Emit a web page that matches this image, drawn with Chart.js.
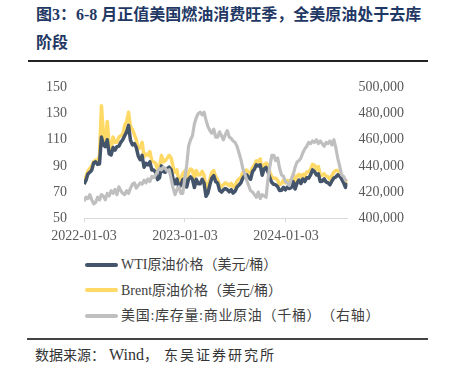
<!DOCTYPE html>
<html>
<head>
<meta charset="utf-8">
<script src="https://cdn.jsdelivr.net/npm/chart.js@4.4.1/dist/chart.umd.min.js"></script>
<style>
  body { margin: 0; width: 449px; height: 370px; background: #fff; position: relative; overflow: hidden;
         font-family: "Liberation Serif", "Noto Sans CJK SC", serif; text-spacing-trim: space-all; }
  #title { position: absolute; left: 36px; top: 1px; font-size: 16px; line-height: 28px; font-weight: bold;
           color: #1F3864; white-space: nowrap; }
  .rule { position: absolute; background: #222; }
  #chartBox { position: absolute; left: 0; top: 62px; width: 449px; height: 193px; }
  .legendRow { position: absolute; left: 85px; height: 20px; line-height: 20px; font-size: 14px; color: #404040;
               white-space: nowrap; }
  .swatch { display: inline-block; width: 33px; height: 4px; border-radius: 2px; vertical-align: middle;
            margin-right: 3px; position: relative; top: -1px; }
  #source { position: absolute; left: 35px; top: 345px; font-size: 14px; line-height: 20px; color: #333; white-space: nowrap; }
  #source .lat { font-size: 16px; margin-left: 4px; }
  #source .fim { letter-spacing: 2px; margin-left: 6px; }
</style>
</head>
<body>
<div id="title">图3：6-8 月正值美国燃油消费旺季，全美原油处于去库<br>阶段</div>
<div class="rule" style="left:28px; top:60px; width:400px; height:2px;"></div>
<div id="chartBox"><canvas id="grafico"></canvas></div>
<div id="legend"></div>
<div class="rule" style="left:27px; top:338px; width:401px; height:1.5px; background:#444;"></div>
<div id="source">数据来源：<span class="lat">Wind</span>，<span class="fim">东吴证券研究所</span></div>

<script>
const ctx = document.getElementById('grafico');

// semanas a partir de 2022-01-03
const dataInicio = '2022-01-03';
const dataFim = '2024-08-12';

const wti = [
  76.1,
  78.9, 83.8, 85.1, 86.8, 92.3, 93.1, 91.1, 91.6, 112, 106, 104.7, 110, 99.3, 98.3, 104, 102.1, 104.7, 105,
  108, 110, 113, 116, 121, 109.6, 106, 107, 104, 97.6, 94.7, 98, 89, 92, 90.8, 93.1, 86.9, 86.8, 85.1, 79.5,
  81, 90, 85.6, 85.1, 87.9, 89, 87, 80.1, 76.3, 80, 73, 75.5, 79.6, 80.3,
  73.8, 79.9, 81.6, 79.7, 73.4, 79.7, 76.3, 76.3, 79.7, 76.7, 66.7, 69.3, 75.7, 80.7, 82.5, 77.9, 76.8, 71.3,
  70, 71.7, 72.7, 71.7, 70.2, 71.8, 69.2, 70.6, 73.9, 75.4, 77.1, 80.6, 82.8, 83.2, 81.3, 79.8, 85.6, 87.5,
  90.8, 90, 90.8, 82.8, 87.7, 88.8, 85.5, 80.5, 77.2, 75.9, 75.5, 74.1, 71.2, 71.4, 73.6, 71.7,
  73.8, 72.7, 73.4, 78, 72.3, 76.8, 79.2, 76.5, 80, 78, 81, 80.6, 83.2, 86.9, 85.7, 83.1, 83.9, 78.1, 78.3,
  80.1, 77.7, 77, 75.5, 78.5, 80.7, 81.5, 83.2, 82.2, 80.1, 77.2, 73.5, 76.8
];

const brent = [
  78.9,
  81.8, 86, 88, 90, 93.3, 94.4, 93.5, 97.9, 136, 114, 108, 124, 106, 103, 112, 108, 108, 112, 113, 114, 121,
  124, 131, 120, 118, 114, 110, 103, 104, 108, 97, 99, 98, 101, 94, 93, 92, 87, 89, 98, 93, 94, 96, 98, 96,
  89, 85, 87, 78, 80, 84, 86,
  78.6, 85.3, 87.6, 86.7, 80, 86.4, 83, 83.2, 85.8, 82.8, 73, 75, 79.8, 85.1, 86.3, 81.7, 79.5, 75.3, 74.2,
  75.6, 77.1, 76.1, 74.8, 76.6, 73.9, 74.9, 78.5, 79.9, 81.1, 85, 86.2, 86.8, 84.8, 84.5, 88.6, 90.7, 93.9,
  93.3, 95.3, 84.6, 90.9, 92.2, 90.5, 84.9, 81.4, 80.6, 80.6, 78.9, 75.8, 76.6, 79.1, 77,
  78.8, 78.3, 78.6, 83.6, 77.3, 82.2, 83.5, 81.6, 83.6, 82.1, 85.3, 85.4, 87.5, 91.2, 90.5, 87.3, 89.5, 83,
  82.8, 84, 82.1, 81.6, 79.6, 82.6, 85.2, 86.4, 86.5, 85, 82.6, 81.1, 76.8, 79.7
];

// 千桶
const estoque = [
  413000, 416000, 415000, 418000, 414000, 411000, 412000, 416000, 414000, 418000, 417000, 414000, 419000,
  417000, 421000, 419000, 422000, 418000, 424000, 421000, 419000, 418000, 421000, 419000, 423000, 426000,
  427000, 423000, 425000, 427000, 426000, 429000, 427000, 430000, 428000, 432000, 431000, 433000, 436000,
  438000, 437000, 439000, 438000, 436000, 437000, 430000, 423000, 418000, 422000, 424000, 419000, 419000,
  430000, 440000, 455000, 460000, 463000, 472000, 477000, 480000, 481000, 479000, 481000, 475000, 470000,
  467000, 465000, 468000, 462000, 462000, 466000, 463000, 460000, 464000, 467000, 462000, 461000, 459000,
  458000, 455000, 450000, 445000, 438000, 434000, 429000, 425000, 421000, 420000, 418000, 416000, 420000,
  415000, 418000, 417000, 416000, 430000, 440000, 448000, 448000, 444000, 446000, 438000, 433000, 432000,
  428000, 427000, 425000, 430000, 433000, 439000, 443000, 444000, 446000, 450000, 453000, 455000, 458000,
  457000, 459000, 458000, 460000, 457000, 459000, 457000, 455000, 458000, 457000, 459000, 456000, 460000,
  454000, 446000, 440000, 433000, 432000, 429000, 429000
];

const xTickLabels = ['2022-01-03', '2023-01-03', '2024-01-03'];

const legendas = ['WTI原油价格（美元/桶）', 'Brent原油价格（美元/桶）', '美国:库存量:商业原油（千桶）（右轴）'];
const cores = ['#44546A', '#FFD966', '#BFBFBF'];

const DIA = 86400000;
const dias = s => (Date.parse(s) - Date.parse(dataInicio)) / DIA;
const semana = i => i * 7;
const pontos = arr => arr.map((v, i) => ({ x: semana(i), y: v }));

const fonteEixo = { family: '"Liberation Serif", serif', size: 14 };

new Chart(ctx, {
    type: 'line',
    data: {
        datasets: [
            { label: legendas[0], data: pontos(wti), borderColor: cores[0], borderWidth: 3.5, yAxisID: 'y', order: 1 },
            { label: legendas[1], data: pontos(brent), borderColor: cores[1], borderWidth: 3.5, yAxisID: 'y', order: 2 },
            { label: legendas[2], data: pontos(estoque), borderColor: cores[2], borderWidth: 3.2, yAxisID: 'y2', order: 0 }
        ]
    },
    options: {
        responsive: true,
        maintainAspectRatio: false,
        animation: false,
        elements: { point: { radius: 0 }, line: { tension: 0, borderJoinStyle: 'round' } },
        layout: { padding: { top: 15, bottom: 4, left: 0, right: 0 } },
        plugins: { legend: { display: false }, tooltip: { enabled: false } },
        scales: {
            x: {
                type: 'linear',
                min: 0,
                max: dias(dataFim),
                afterBuildTicks: scale => {
                    scale.ticks = xTickLabels.map(t => ({ value: dias(t) }));
                },
                ticks: {
                    autoSkip: false,
                    maxRotation: 0,
                    padding: 6,
                    color: '#595959',
                    font: fonteEixo,
                    callback: (val, index) => xTickLabels[index]
                },
                grid: { drawOnChartArea: false, drawTicks: true, tickLength: 4, color: '#D9D9D9' },
                border: { color: '#D9D9D9', width: 1 }
            },
            y: {
                position: 'left',
                min: 50,
                max: 150,
                afterFit: scale => { scale.width = 84; },
                ticks: { stepSize: 20, padding: 17, color: '#595959', font: fonteEixo },
                grid: { display: false, drawTicks: false },
                border: { display: false }
            },
            y2: {
                position: 'right',
                min: 400000,
                max: 500000,
                afterFit: scale => { scale.width = 101.6; },
                ticks: {
                    stepSize: 20000, padding: 11, color: '#595959', font: fonteEixo,
                    callback: v => v.toLocaleString('en-US')
                },
                grid: { display: false, drawTicks: false },
                border: { display: false }
            }
        }
    }
});

// legenda em três linhas
const centros = [265, 290.5, 316];
const espacos = ['0px', '0px', '0.7px'];
const box = document.getElementById('legend');
legendas.forEach((txt, i) => {
    const row = document.createElement('div');
    row.className = 'legendRow';
    row.style.top = (centros[i] - 10) + 'px';
    row.style.letterSpacing = espacos[i];
    row.innerHTML = '<span class="swatch" style="background:' + cores[i] + '"></span>' + txt;
    box.appendChild(row);
});
</script>
</body>
</html>
